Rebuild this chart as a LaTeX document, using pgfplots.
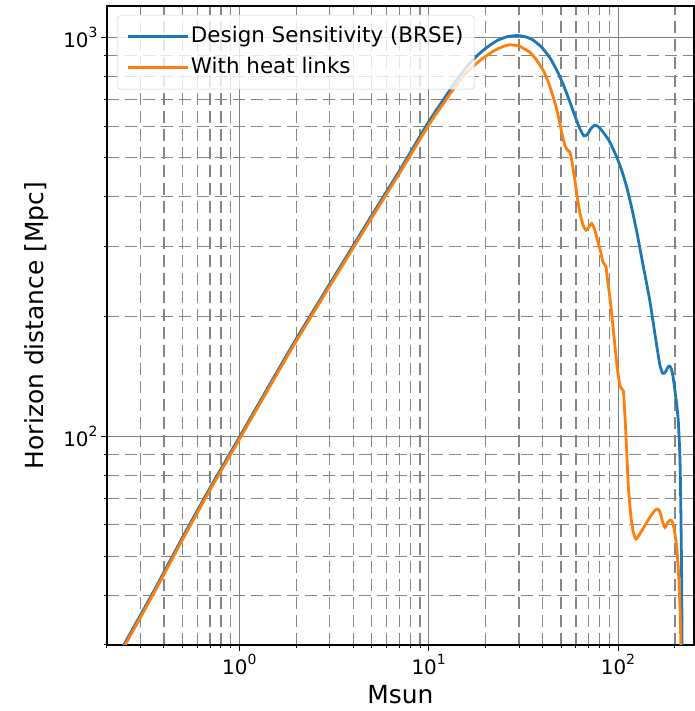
\documentclass[border=0pt]{standalone}
\usepackage{fontspec}
\setmainfont{DejaVu Sans}
\usepackage{pgfplots}
\pgfplotsset{compat=1.18}
\definecolor{mblue}{HTML}{1F77B4}
\definecolor{morange}{HTML}{FF7F0E}
\newcommand{\tl}[1]{10\raisebox{0.5em}{\fontsize{14}{14}\selectfont #1}}
\begin{document}
\begin{tikzpicture}
\begin{loglogaxis}[
  scale only axis, width=587bp, height=639bp,
  xmin=0.2, xmax=252, ymin=30, ymax=1200,
  xtick={1,10,100},
  xticklabels={\tl{0},\tl{1},\tl{2}},
  ytick={100,1000},
  yticklabels={\tl{2},\tl{3}},
  minor xtick={0.2,0.3,0.4,0.5,0.6,0.7,0.8,0.9,2,3,4,5,6,7,8,9,20,30,40,50,60,70,80,90,200},
  minor ytick={30,40,50,60,70,80,90,200,300,400,500,600,700,800,900},
  grid=both,
  major grid style={solid, line width=1bp, color=black!50},
  minor grid style={line width=1.1bp, color=black!48, dash pattern=on 12bp off 6bp},
  tick align=outside, tick pos=left,
  major tick length=6bp, minor tick length=3.5bp,
  tick style={black, line width=1bp},
  axis line style={line width=1.1bp},
  ticklabel style={font=\fontsize{20}{24}\selectfont},
  xlabel={Msun}, ylabel={Horizon distance [Mpc]},
  label style={font=\fontsize{25}{30}\selectfont},
  xlabel style={at={(axis description cs:0.5,-0.0908)}, anchor=base},
  ylabel style={at={(axis description cs:-0.094,0.5)}, anchor=south, rotate=0},
  legend cell align=left,
  legend style={at={(axis description cs:0,1)}, anchor=north west,
    xshift=10bp, yshift=-9bp, draw=black!20, rounded corners=4bp,
    fill=white, fill opacity=0.8, text opacity=1,
    font=\fontsize{21.5}{26}\selectfont, inner xsep=9bp, inner ysep=10bp,
    row sep=8bp,
    nodes={inner ysep=1bp, text height=16bp, text depth=5bp}},
  legend image code/.code={\draw[#1] (0bp,0bp) -- (44bp,0bp); \path (0bp,0bp) -- (60bp,0bp);},
]
\addplot[mblue, line width=2.8bp, smooth, tension=0.35] coordinates {
(0.2,25.2)(0.25,30.5)(0.35,40.6)(0.5,55.7)(0.7,74.3)(1,99.5)(1.5,139)(2,175.7)(3,241)(5,358)(7,463)(10,615)(12,700)(14,780)(16,848)(18,900)(20,940)(23,983)(26,1005)(29.5,1012)(33,1002)(36,982)(40,940)(44,885)(48,820)(52,752)(56,685)(60,625)(63,590)(66,567)(69,572)(72,592)(75.5,603)(79,597)(84,577)(90,550)(98.4,502)(105,462)(111,423)(118,375)(126,324)(135,272)(147,220)(158,176)(166,152)(172,144)(178,145)(185,150)(190,149)(195,142)(200,130)(204,121)(208,110)(211,96)(213,84)(215,63)(217,43)(218,28)
};
\addlegendentry{Design Sensitivity (BRSE)}
\addplot[morange, line width=2.8bp, smooth, tension=0.35] coordinates {
(0.2,24.9)(0.25,30.1)(0.35,40.1)(0.5,55.0)(0.7,73.4)(1,98.3)(1.5,137.3)(2,173.5)(3,238)(5,353)(7,456)(10,603)(12,685)(14,760)(16,820)(18.6,875)(22,925)(24.5,948)(26.8,959)(30,952)(34.2,919)(37,880)(40.3,827)(43,770)(45.5,709)(47.5,660)(49.3,608)(51,565)(52.5,535)(54,523)(55.7,517)(57,492)(59.2,439)(61,397)(63,362)(65.5,338)(67.7,329)(70,334)(72.6,342)(75,332)(78.7,305)(81,290)(83,275)(85,270)(86.5,266)(88,248)(90.7,222)(92.5,204)(95,180)(98.4,153)(100,144)(102.5,134)(104,132)(106.7,130)(108,120)(110,102)(113.4,75)(117,63)(120.5,57.4)(124.5,55.3)(130,56.8)(141.6,60.8)(150,63.5)(158,65.5)(163,65.7)(168,64)(172,61)(177,59.1)(184,61)(189,61.7)(194,61)(198,58.5)(204,53.2)(208,47)(211,41)(213,36.2)(214.5,31)(215.5,26)
};
\addlegendentry{With heat links}
\end{loglogaxis}
\path (current axis.south west) ++(-107bp,-66bp) rectangle ++(694bp,711bp);
\end{tikzpicture}
\end{document}
